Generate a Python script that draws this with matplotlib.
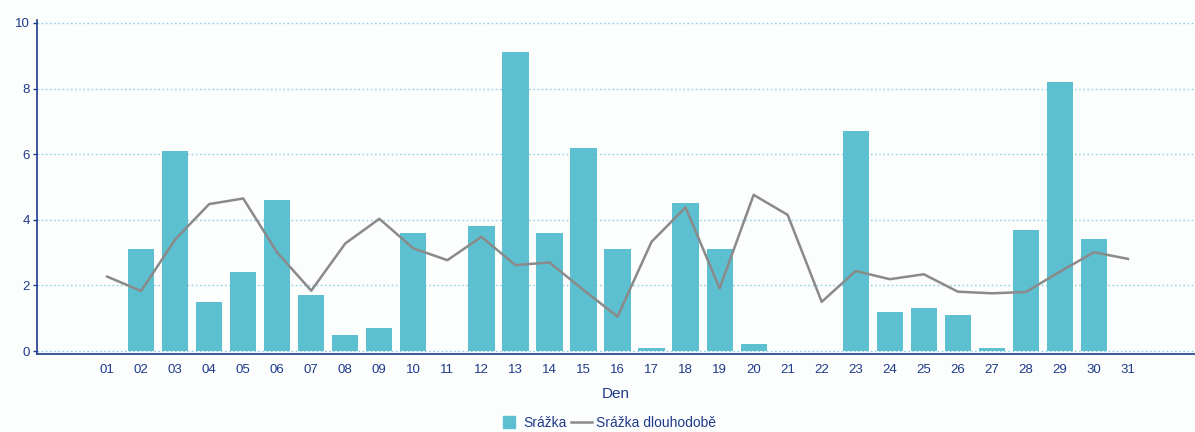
import matplotlib
matplotlib.use("Agg")
import matplotlib.pyplot as plt
from matplotlib.lines import Line2D

days = [f"{d:02d}" for d in range(1, 32)]
srazka = [0, 3.1, 6.1, 1.5, 2.4, 4.6, 1.7, 0.5, 0.7, 3.6,
          0, 3.8, 9.1, 3.6, 6.2, 3.1, 0.1, 4.5, 3.1, 0.2,
          0, 0, 6.7, 1.2, 1.3, 1.1, 0.1, 3.7, 8.2, 3.4, 0]
srazka_dlouhodobe = [2.27, 1.83, 3.40, 4.48, 4.65, 3.00, 1.84, 3.28, 4.03, 3.13,
                     2.77, 3.48, 2.62, 2.70, 1.86, 1.05, 3.33, 4.38, 1.91, 4.76,
                     4.15, 1.50, 2.44, 2.19, 2.34, 1.81, 1.76, 1.80, 2.42, 3.01,
                     2.81]
y_ticks = [0, 2, 4, 6, 8, 10]

navy = "#1f3a8a"
bar_color = "#5cc0d0"
line_color = "#8a8a8a"
grid_color = "#8fd3e3"

plt.rcParams["font.family"] = ["Liberation Sans", "DejaVu Sans"]

fig = plt.figure(figsize=(11.95, 4.32), dpi=100)
fig.patch.set_facecolor("#fcfdfd")
ax = fig.add_axes([37 / 1195, 78 / 432, 1158 / 1195, 334 / 432])
ax.set_facecolor("#fcfdfd")

x = list(range(1, 32))
ax.bar(x, srazka, width=0.77, color=bar_color, linewidth=0, zorder=2)
ax.plot(x, srazka_dlouhodobe, color=line_color, linewidth=1.8, zorder=3)

ax.set_xlim(-1.06, 32.97)
ax.set_ylim(-0.09, 10.09)
ax.set_yticks(y_ticks)
ax.set_xticks(x)
ax.set_xticklabels(days)
ax.yaxis.grid(True, color=grid_color, linestyle=(0, (1.2, 1.8)), linewidth=1.0, zorder=0)
ax.xaxis.grid(False)

for side in ("top", "right"):
    ax.spines[side].set_visible(False)
for side in ("left", "bottom"):
    ax.spines[side].set_color(navy)
    ax.spines[side].set_linewidth(1.2)

ax.tick_params(axis="y", colors=navy, labelsize=9.5, length=3, width=1, pad=2)
ax.tick_params(axis="x", colors=navy, labelsize=9.5, length=0, pad=7)
ax.set_xlabel("Den", color=navy, fontsize=11, labelpad=8)

handles = [Line2D([], [], marker="s", linestyle="none", markersize=8,
                  markerfacecolor=bar_color, markeredgecolor=bar_color),
           Line2D([], [], color=line_color, linewidth=1.8)]
fig.legend(handles, ["Srážka", "Srážka dlouhodobě"], loc="center",
           bbox_to_anchor=(607 / 1195, 1 - 423 / 432), ncol=2, frameon=False,
           fontsize=10, labelcolor=navy, handlelength=1.5,
           handletextpad=0.3, columnspacing=0.3)

fig.savefig("out.png", dpi=100, facecolor=fig.get_facecolor())
